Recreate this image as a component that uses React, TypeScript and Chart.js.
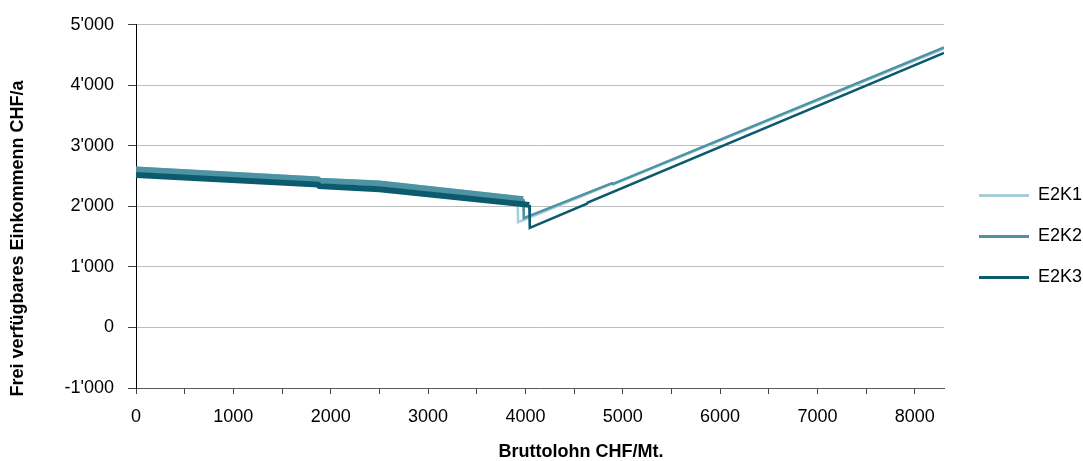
import React, { useEffect, useRef } from 'react';
import { Chart, registerables } from 'chart.js';

Chart.register(...registerables);

const FONT = '"Liberation Sans", Arial, Helvetica, sans-serif';

const SERIES_LABELS = ['E2K1', 'E2K2', 'E2K3'];
const SERIES_COLORS = ['#a7cdd6', '#4d93a3', '#0c5a6d'];

// Bruttolohn CHF/Mt. (x) and frei verfügbares Einkommen (y)
const e2k1Salary = [0, 1870, 1885, 2500, 3920, 3925, 3966, 4890, 4900, 8300];
const e2k1Income = [2610, 2445, 2425, 2380, 2128, 1740, 1765, 2372, 2360, 4605];

const e2k2Salary = [0, 1870, 1885, 2500, 3978, 3983, 4890, 4900, 8300];
const e2k2Income = [2610, 2445, 2425, 2380, 2120, 1805, 2385, 2372, 4625];

const e2k3Salary = [0, 1870, 1885, 2500, 4040, 4045, 4632, 4640, 8300];
const e2k3Income = [2520, 2360, 2335, 2285, 2025, 1645, 2045, 2062, 4535];

// x-axis tick marks (labels only on the thousands)
const X_TICK_VALUES = [0, 500, 1000, 1500, 2000, 2500, 3000, 3500, 4000, 4500, 5000, 5500, 6000, 6500, 7000, 7500, 8000];
const X_MIN = 0;
const X_MAX = 8300;
const Y_MIN = -1000;
const Y_MAX = 5000;
const Y_STEP = 1000;

const X_TITLE = 'Bruttolohn CHF/Mt.';
const Y_TITLE = 'Frei verfügbares Einkommenn CHF/a';

const fmtThousands = (v: number) => {
  const s = Math.abs(v).toString().replace(/\B(?=(\d{3})+(?!\d))/g, "'");
  return (v < 0 ? '-' : '') + s;
};

const toPoints = (xs: number[], ys: number[]) => xs.map((x, i) => ({ x, y: ys[i] }));

const axisTitlePlugin = {
  id: 'axisTitles',
  afterDraw(chart: any) {
    const { ctx } = chart;
    ctx.save();
    ctx.font = `bold 18px ${FONT}`;
    ctx.fillStyle = '#000';
    ctx.textAlign = 'center';
    ctx.textBaseline = 'middle';
    ctx.fillText(X_TITLE, 581, 452.5);
    ctx.translate(18.5, 238.5);
    ctx.rotate(-Math.PI / 2);
    ctx.fillText(Y_TITLE, 0, 0);
    ctx.restore();
  },
};

export default function App() {
  const ref = useRef<HTMLCanvasElement>(null);

  useEffect(() => {
    const seriesData = [
      toPoints(e2k1Salary, e2k1Income),
      toPoints(e2k2Salary, e2k2Income),
      toPoints(e2k3Salary, e2k3Income),
    ];
    const datasets = SERIES_LABELS.map((label, i) => ({
      label,
      data: seriesData[i],
      borderColor: SERIES_COLORS[i],
      backgroundColor: SERIES_COLORS[i],
      borderWidth: 2.5,
      pointRadius: 0,
      pointHoverRadius: 0,
      tension: 0,
      fill: false,
      order: 3 - i,
      segment: {
        borderWidth: (ctx: any) => (ctx.p0.parsed.x < 3900 ? 6 : 2.5),
      },
    }));

    const chart = new Chart(ref.current as HTMLCanvasElement, {
      type: 'line',
      data: { datasets },
      plugins: [axisTitlePlugin],
      options: {
        responsive: false,
        animation: false,
        layout: { padding: { top: 12, bottom: 0, left: 0, right: 0 } },
        font: { family: FONT },
        plugins: {
          tooltip: { enabled: false },
          legend: {
            display: true,
            position: 'right',
            align: 'center',
            maxWidth: 127,
            labels: {
              boxWidth: 50,
              boxHeight: 3,
              padding: 23,
              color: '#000',
              font: { size: 18, family: FONT },
              generateLabels: (c: any) =>
                c.data.datasets.map((ds: any, i: number) => ({
                  text: ds.label,
                  fillStyle: ds.borderColor,
                  strokeStyle: ds.borderColor,
                  lineWidth: 0,
                  hidden: false,
                  datasetIndex: i,
                  fontColor: '#000',
                })),
            },
          },
        },
        scales: {
          x: {
            type: 'linear',
            position: 'bottom',
            min: X_MIN,
            max: X_MAX,
            afterBuildTicks: (s: any) => {
              s.ticks = X_TICK_VALUES.map((value) => ({ value }));
            },
            afterFit: (s: any) => {
              s.height = 73;
            },
            ticks: {
              autoSkip: false,
              maxRotation: 0,
              padding: 12,
              color: '#000',
              font: { size: 18, family: FONT },
              callback: (v: any) => (Number(v) % 1000 === 0 ? String(v) : ''),
            },
            grid: {
              drawOnChartArea: false,
              drawTicks: true,
              tickLength: 6,
              color: '#404040',
            },
            border: { display: true, color: '#5a5a5a', width: 1 },
          },
          y: {
            type: 'linear',
            position: 'left',
            min: Y_MIN,
            max: Y_MAX,
            afterFit: (s: any) => {
              s.width = 136;
            },
            ticks: {
              stepSize: Y_STEP,
              padding: 14,
              color: '#000',
              font: { size: 18, family: FONT },
              callback: (v: any) => fmtThousands(Number(v)),
            },
            grid: {
              color: '#bdbdbd',
              lineWidth: 1,
              drawTicks: true,
              tickLength: 8,
              tickColor: '#404040',
            },
            border: { display: true, color: '#000', width: 1 },
          },
          spacerTop: {
            type: 'linear',
            axis: 'x',
            position: 'top',
            display: true,
            grid: { display: false, drawTicks: false },
            border: { display: false },
            ticks: { display: false },
            afterFit: (s: any) => {
              s.height = 10;
            },
          },
          spacerRight: {
            type: 'linear',
            axis: 'y',
            position: 'right',
            display: true,
            grid: { display: false, drawTicks: false },
            border: { display: false },
            ticks: { display: false },
            afterFit: (s: any) => {
              s.width = 12;
            },
          },
        },
      } as any,
    });
    return () => chart.destroy();
  }, []);

  return (
    <div style={{ position: 'fixed', left: 0, top: 0, width: 1083, height: 461, background: '#fff' }}>
      <canvas ref={ref} width={1083} height={461} style={{ display: 'block', width: 1083, height: 461 }} />
    </div>
  );
}
